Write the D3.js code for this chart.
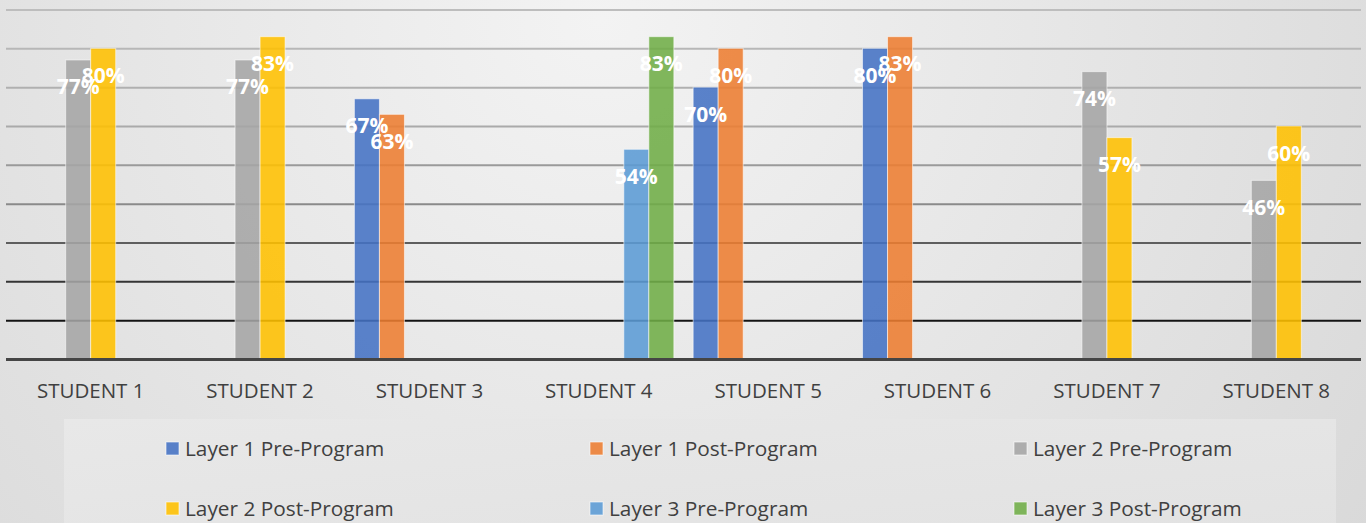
<!DOCTYPE html>
<html>
<head>
<meta charset="utf-8">
<script src="https://cdn.jsdelivr.net/npm/d3@7"></script>
<style>
  html, body { margin: 0; padding: 0; overflow: hidden; }
  svg { display: block; }
</style>
</head>
<body>
<svg id="chart" width="1366" height="523"></svg>
<script>
// ---- data ----
const categories = ["STUDENT 1", "STUDENT 2", "STUDENT 3", "STUDENT 4", "STUDENT 5", "STUDENT 6", "STUDENT 7", "STUDENT 8"];
const seriesNames = ["Layer 1 Pre-Program", "Layer 1 Post-Program", "Layer 2 Pre-Program", "Layer 2 Post-Program", "Layer 3 Pre-Program", "Layer 3 Post-Program"];
const seriesColors = ["#4472C4", "#ED7D31", "#A5A5A5", "#FFC000", "#5B9BD5", "#70AD47"];
const layer1Pre  = [null, null, 67, null, 70, 80, null, null];
const layer1Post = [null, null, 63, null, 80, 83, null, null];
const layer2Pre  = [77, 77, null, null, null, null, 74, 46];
const layer2Post = [80, 83, null, null, null, null, 57, 60];
const layer3Pre  = [null, null, null, 54, null, null, null, null];
const layer3Post = [null, null, null, 83, null, null, null, null];
const gridTicks = [10, 20, 30, 40, 50, 60, 70, 80, 90];

const seriesValues = [layer1Pre, layer1Post, layer2Pre, layer2Post, layer3Pre, layer3Post];

const W = 1366, H = 523;
const svg = d3.select("#chart");
const defs = svg.append("defs");

// background gradient
const bg = defs.append("radialGradient").attr("id", "bg")
  .attr("gradientUnits", "userSpaceOnUse")
  .attr("cx", 600).attr("cy", 20).attr("r", 1000);
bg.append("stop").attr("offset", "0%").attr("stop-color", "#f3f3f3");
bg.append("stop").attr("offset", "100%").attr("stop-color", "#d7d7d7");
svg.append("rect").attr("width", W).attr("height", H).attr("fill", "url(#bg)");

// legend box
const lg = defs.append("linearGradient").attr("id", "lg")
  .attr("x1", 0).attr("y1", 0).attr("x2", 1).attr("y2", 1);
lg.append("stop").attr("offset", "0%").attr("stop-color", "#e8e8e8");
lg.append("stop").attr("offset", "100%").attr("stop-color", "#e2e2e2");

// scales
const x0 = d3.scaleBand().domain(categories).range([6, 1361])
  .paddingInner(0.114).paddingOuter(0.057);
const x1 = d3.scaleBand().domain(d3.range(seriesNames.length)).range([0, x0.bandwidth()]);
const y = d3.scaleLinear().domain([0, 90]).range([359, 9.5]);

const gridColor = d3.scaleLinear().domain([10, 20, 30, 40, 60, 90])
  .range(["#141414", "#353535", "#5e5e5e", "#8a8a8a", "#aaaaaa", "#bdbdbd"]);

// gridlines via axis
const yAxis = d3.axisLeft(y).tickValues(gridTicks).tickSize(-(1361 - 6)).tickFormat("");
const gy = svg.append("g").attr("transform", "translate(6,0)").call(yAxis);
gy.select(".domain").remove();
gy.selectAll(".tick line")
  .attr("stroke", d => gridColor(d))
  .attr("stroke-width", 2);

// bars
const barData = [];
seriesValues.forEach((vals, si) => {
  vals.forEach((v, ci) => {
    if (v !== null) barData.push({ cat: categories[ci], s: si, v: v });
  });
});

svg.append("g").selectAll("rect").data(barData).join("rect")
  .attr("x", d => x0(d.cat) + x1(d.s))
  .attr("y", d => y(d.v))
  .attr("width", x1.bandwidth())
  .attr("height", d => y(0) - y(d.v))
  .attr("fill", d => seriesColors[d.s])
  .attr("fill-opacity", 0.88)
  .attr("stroke", "rgba(255,255,255,0.55)")
  .attr("stroke-width", 1);

// baseline
svg.append("line")
  .attr("x1", 6).attr("x2", 1361)
  .attr("y1", y(0) + 0.5).attr("y2", y(0) + 0.5)
  .attr("stroke", "#454545").attr("stroke-width", 3);

// data labels
svg.append("g").selectAll("text").data(barData).join("text")
  .attr("x", d => x0(d.cat) + x1(d.s) + x1.bandwidth() / 2)
  .attr("y", d => y(d.v) + 34.5)
  .attr("text-anchor", "middle")
  .attr("fill", "#ffffff")
  .attr("font-family", "'Open Sans', sans-serif")
  .attr("font-weight", 700)
  .attr("font-size", "21px")
  .text(d => d.v + "%");

// x axis labels
const xAxis = d3.axisBottom(x0).tickSize(0).tickPadding(0);
const gx = svg.append("g").call(xAxis);
gx.select(".domain").remove();
gx.selectAll(".tick text")
  .attr("y", 398)
  .attr("dy", null)
  .attr("fill", "#404040")
  .attr("font-family", "'Open Sans', sans-serif")
  .attr("font-size", "20.5px");

// legend
svg.append("rect").attr("x", 64).attr("y", 419).attr("width", 1336 - 64).attr("height", 120)
  .attr("fill", "url(#lg)");

const legendX = [166, 590, 1014];
const legendY = [456, 516];
const leg = svg.append("g").selectAll("g").data(seriesNames).join("g")
  .attr("transform", (d, i) => `translate(${legendX[i % 3]},${legendY[Math.floor(i / 3)]})`);
leg.append("rect")
  .attr("x", 0).attr("y", -14).attr("width", 13).attr("height", 13)
  .attr("fill", (d, i) => seriesColors[i]).attr("fill-opacity", 0.88)
  .attr("stroke", "rgba(255,255,255,0.6)").attr("stroke-width", 1);
leg.append("text")
  .attr("x", 19).attr("y", 0)
  .attr("fill", "#404040")
  .attr("font-family", "'Open Sans', sans-serif")
  .attr("font-size", "20.8px")
  .text(d => d);
</script>
</body>
</html>
